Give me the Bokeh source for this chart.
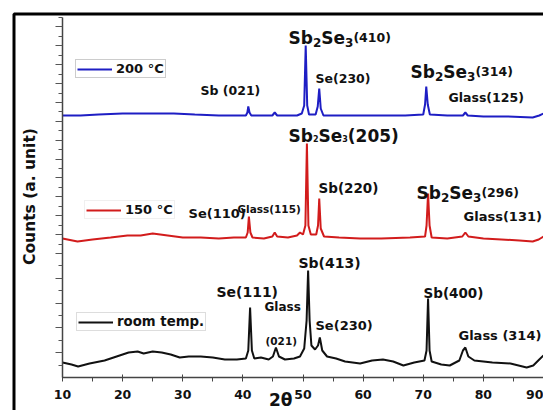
from bokeh.plotting import figure
from bokeh.models import (Range1d, SingleIntervalTicker, FixedTicker, Legend, LegendItem, Label,
                          BoxAnnotation, CustomLabelingPolicy, LinearAxis)
from bokeh.core.properties import value
from bokeh.embed import file_html
from bokeh.resources import INLINE

# ---------------- data ----------------
room_2theta = [10.0, 11.5, 12.6, 14.5, 17.0, 19.0, 21.0, 22.5, 23.5, 25.0, 26.5, 28.0, 29.5, 31.0, 33.0,
               35.0, 37.0, 39.0, 40.5, 40.9, 41.2, 41.5, 41.9, 43.0, 44.3, 45.0, 45.5, 46.0, 47.0, 48.5,
               49.5, 50.2, 50.6, 50.85, 51.1, 51.4, 52.0, 52.5, 52.8, 53.2, 54.0, 55.5, 57.0, 59.5, 61.5,
               63.3, 65.0, 66.7, 68.5, 70.2, 70.55, 70.8, 71.05, 71.4, 73.0, 74.4, 76.0, 76.6, 77.0, 77.5,
               78.5, 81.5, 84.5, 87.2, 88.3, 89.3, 90.0]
room_counts = [15, 13, 11, 14, 17, 21, 25, 26, 24, 26, 25, 23, 20, 21, 21,
               20, 18, 18, 19, 27, 70, 27, 19, 20, 18, 21, 30, 21, 18, 19,
               21, 29, 57, 107, 57, 32, 28, 32, 40, 27, 21, 19, 16, 14, 17,
               18, 16, 12, 15, 17, 27, 79, 27, 16, 13, 12, 17, 27, 30, 21,
               17, 15, 14, 10, 12, 18, 22]

t150_2theta = [10.0, 12.5, 15.0, 18.0, 20.8, 23.0, 25.0, 27.5, 30.0, 33.0, 36.0, 38.5, 40.5, 40.8, 41.0,
               41.25, 41.6, 43.5, 44.9, 45.3, 45.7, 47.5, 49.0, 49.5, 50.0, 50.4, 50.65, 50.9, 51.3, 52.2,
               52.5, 52.7, 52.95, 53.5, 56.0, 59.5, 63.0, 67.8, 70.3, 70.55, 70.8, 71.05, 71.4, 74.0, 76.5,
               77.0, 77.5, 80.0, 83.0, 86.0, 88.2, 89.2, 90.0]
t150_counts = [139, 136, 138, 140, 142, 142, 144, 142, 140, 140, 139, 140, 140, 145, 161,
               145, 140, 139, 141, 145, 141, 140, 142, 145, 143, 152, 234, 152, 143, 143,
               152, 179, 149, 141, 140, 139, 139, 140, 141, 152, 184, 152, 140, 139, 141,
               145, 141, 139, 138, 137, 136, 138, 141]

t200_2theta = [10.0, 13.0, 16.0, 20.0, 24.0, 28.5, 32.0, 36.0, 40.5, 40.75, 40.9, 41.1, 41.4, 44.9, 45.3,
               45.7, 49.0, 49.8, 50.2, 50.45, 50.7, 51.0, 52.1, 52.45, 52.7, 52.95, 53.4, 57.0, 62.0, 67.0,
               70.0, 70.3, 70.5, 70.75, 71.1, 74.0, 76.6, 77.0, 77.4, 80.0, 84.0, 88.2, 89.3, 90.0]
t200_counts = [262, 262, 263, 264, 264, 264, 263, 262, 262, 265, 271, 265, 262, 262, 265,
               262, 262, 264, 272, 332, 272, 263, 263, 271, 289, 269, 262, 262, 262, 262,
               263, 273, 291, 273, 263, 262, 262, 265, 262, 261, 261, 260, 262, 264]

series_names = ["room temp.", "150 \u00b0C", "200 \u00b0C"]
x_min, x_max, x_tick_step = 10, 90, 10
y_min, y_max = 0, 360

# peak annotations: (text, 2theta, counts, font px)
peak_labels = [
    ("Sb (021)", 32.95, 287, 12.5),
    ("Se(230)", 52.08, 299, 12.5),
    ("Glass(125)", 74.2, 280, 12.5),
    ("Sb(220)", 52.58, 190, 13.5),
    ("Glass(131)", 76.7, 161, 13),
    ("Se(110)", 30.96, 164, 13),
    ("Glass(115)", 39.1, 169, 10.5),
    ("Sb(413)", 49.25, 115, 14),
    ("Se(111)", 35.6, 86, 14),
    ("Glass", 43.6, 71, 12),
    ("(021)", 43.76, 37, 10.5),
    ("Se(230)", 52.08, 52, 13),
    ("Sb(400)", 70.04, 85, 13.5),
    ("Glass (314)", 75.86, 42, 13),
]
# compound labels with subscripts: (2theta, baseline counts, [(part, font px, drop px)])
compound_labels = [
    (47.59, 340, [("Sb", 17, 0), ("2", 12, 5), ("Se", 17, 0), ("3", 12, 5), ("(410)", 12.5, 0)]),
    (67.88, 306, [("Sb", 17, 0), ("2", 12, 5), ("Se", 17, 0), ("3", 12, 5), ("(314)", 12.5, 0)]),
    (47.59, 242, [("Sb", 17, 0), ("2", 8, 3), ("Se", 17, 0), ("3", 8, 3), ("(205)", 17, 0)]),
    (68.88, 185, [("Sb", 17, 0), ("2", 12, 5), ("Se", 17, 0), ("3", 12, 5), (" (296)", 12.5, 0)]),
]

FONT = "DejaVu Sans"
# approximate advance widths (em) of DejaVu Sans Bold
ADV = {"S": 0.72, "b": 0.716, "e": 0.678, "(": 0.457, ")": 0.457, " ": 0.348}


def text_width(s, size):
    return sum(ADV.get(ch, 0.696) for ch in s) * size


# ---- layout: the plotting frame covers the whole canvas; axes sit at fixed data positions
W, H = 543, 410
AX_LEFT, AX_BOTTOM, AX_TOP = 62, 377, 17          # pixel positions of the axes in the picture
px_per_x = (W - AX_LEFT) / (x_max - x_min)
px_per_y = (AX_BOTTOM - AX_TOP) / (y_max - y_min)
x_range = Range1d(x_min - AX_LEFT / px_per_x, x_max)
y_range = Range1d(y_min - (H - AX_BOTTOM) / px_per_y, y_max + AX_TOP / px_per_y)

p = figure(width=W, height=H, x_range=x_range, y_range=y_range,
           output_backend="svg", toolbar_location=None,
           x_axis_location=None, y_axis_location=None, min_border=0)
p.outline_line_color = None
p.grid.visible = False
p.background_fill_color = "white"
p.border_fill_color = "white"

# outer thick frame of the picture (top and left edges; runs off right/bottom)
FRAME_PX = 13.5
p.add_layout(BoxAnnotation(left=x_min - (AX_LEFT - FRAME_PX) / px_per_x,
                           top=y_max + (AX_TOP - FRAME_PX) / px_per_y,
                           right=x_max + 100, bottom=y_min - 200,
                           fill_alpha=0, line_color="black", line_alpha=1, line_width=3))

r_room = p.line(room_2theta, room_counts, line_color="#111111", line_width=2)
r_150 = p.line(t150_2theta, t150_counts, line_color="#d21c1c", line_width=2)
r_200 = p.line(t200_2theta, t200_counts, line_color="#1e1ec4", line_width=2)

# x axis
xaxis = LinearAxis(fixed_location=y_min, bounds=(x_min, x_max),
                   ticker=SingleIntervalTicker(interval=x_tick_step, num_minor_ticks=2))
xaxis.axis_line_color = "#444444"
xaxis.axis_line_width = 1.5
xaxis.major_tick_in = 3
xaxis.major_tick_out = 3
xaxis.minor_tick_in = 0
xaxis.minor_tick_out = 4
xaxis.major_tick_line_color = "#444444"
xaxis.minor_tick_line_color = "#444444"
xaxis.major_label_standoff = 8
xaxis.major_label_text_font = FONT
xaxis.major_label_text_font_style = "bold"
xaxis.major_label_text_font_size = "12.5px"
xaxis.major_label_text_color = "#111111"
p.add_layout(xaxis, "below")

# y axis (no numbers, dense ticks; lower panel uses wider tick spacing)
bottom_step = 124 / 10
top_step = (y_max - 124) / 25
y_major, y_minor = [], []
for k in range(1, 11):
    (y_major if k % 2 == 0 else y_minor).append(round(k * bottom_step, 2))
for k in range(1, 26):
    (y_major if k % 2 == 0 else y_minor).append(round(124 + k * top_step, 2))
yaxis = LinearAxis(fixed_location=x_min, bounds=(y_min, y_max),
                   ticker=FixedTicker(ticks=y_major, minor_ticks=y_minor))
yaxis.axis_line_color = "#444444"
yaxis.axis_line_width = 1.5
yaxis.major_tick_in = 0
yaxis.major_tick_out = 7
yaxis.minor_tick_in = 0
yaxis.minor_tick_out = 4
yaxis.major_tick_line_color = "#555555"
yaxis.minor_tick_line_color = "#555555"
yaxis.major_label_policy = CustomLabelingPolicy(code="""
    for (const i of indices) indices.unset(i)
    return indices
""")
p.add_layout(yaxis, "left")

# axis titles
p.add_layout(Label(x=46.3, y=-12, text="2\u03b8",
                   text_font=FONT, text_font_style="bold", text_font_size="17px",
                   text_align="center", text_baseline="top", text_color="#111111"))
p.add_layout(Label(x=29, y=181, x_units="screen", text="Counts (a. unit)",
                   angle=90, angle_units="deg",
                   text_font=FONT, text_font_style="bold", text_font_size="15.5px",
                   text_align="center", text_baseline="middle", text_color="#111111"))

# peak labels
for txt, xx, yy, sz in peak_labels:
    p.text(x=[xx], y=[yy], text=[txt], text_font=value(FONT), text_font_style="bold",
           text_font_size=value(f"{sz}px"), text_align="left", text_baseline="middle",
           text_color="#111111")

for xx, yy, parts in compound_labels:
    off = 0.0
    for part, sz, drop in parts:
        p.text(x=[xx], y=[yy], text=[part], x_offset=off, y_offset=drop,
               text_font=value(FONT), text_font_style="bold", text_font_size=value(f"{sz}px"),
               text_align="left", text_baseline="alphabetic", text_color="#111111")
        off += text_width(part, sz)


def add_legend(label, renderer, loc, border, size):
    leg = Legend(items=[LegendItem(label=label, renderers=[renderer])], location=loc,
                 padding=1, margin=0, spacing=0, glyph_width=35, glyph_height=12,
                 label_height=12, label_standoff=4, label_text_font=FONT,
                 label_text_font_style="bold", label_text_font_size=size,
                 label_text_color="#111111",
                 border_line_color=border, border_line_width=1,
                 background_fill_color="white", background_fill_alpha=1)
    p.add_layout(leg)


# legend locations: pixels from the bottom-left corner of the canvas
add_legend(series_names[2], r_200, (75, 332), "#999999", "13px")
add_legend(series_names[1], r_150, (84, 191), "#e2e2e2", "13px")
add_legend(series_names[0], r_room, (76, 79), "#bbbbbb", "13.3px")

open("out.html", "w").write(file_html(p, INLINE))
